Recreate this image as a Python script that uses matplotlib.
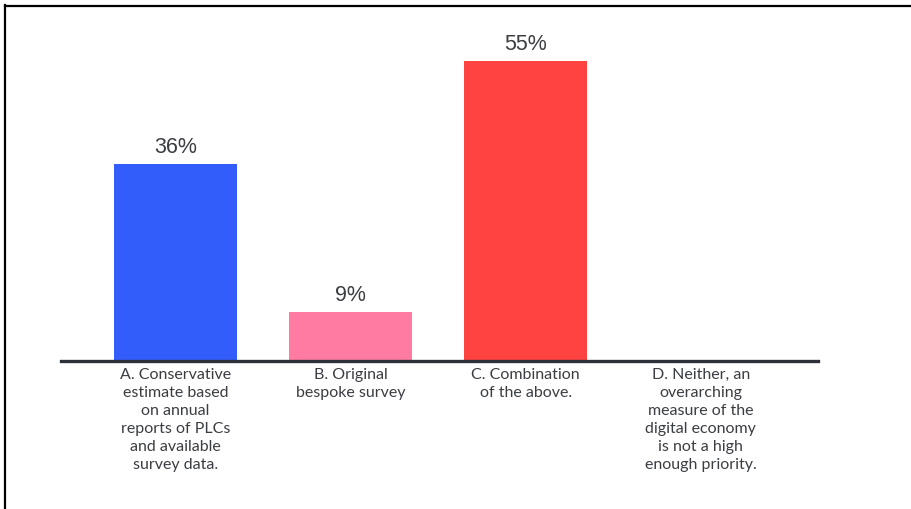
import matplotlib
matplotlib.use("Agg")
import matplotlib.pyplot as plt
from matplotlib.lines import Line2D

categories = [
    "A. Conservative\nestimate based\non annual\nreports of PLCs\nand available\nsurvey data.",
    "B. Original\nbespoke survey",
    "C. Combination\nof the above.",
    "D. Neither, an\noverarching\nmeasure of the\ndigital economy\nis not a high\nenough priority.",
]
values = [36, 9, 55, 0]
value_labels = ["36%", "9%", "55%", None]
colors = ["#335DFB", "#FF7BA1", "#FF4340", "#FFFFFF"]

W, H = 911, 510
fig = plt.figure(figsize=(W / 100, H / 100), dpi=100)
fig.patch.set_facecolor("white")

ax = fig.add_axes([61 / W, 148 / H, (818 - 61) / W, (362 - 35) / H])
x = list(range(len(categories)))
ax.bar(x, values, width=0.70, color=colors, edgecolor="none", zorder=2)

for xi, v, lab in zip(x, values, value_labels):
    if lab:
        ax.text(xi, v + 1.3, lab, ha="center", va="bottom", fontsize=15.5,
                color="#3a3d42", family="Liberation Sans")

ax.set_xlim(-0.655, 3.67)
ax.set_ylim(0, 59.9)
ax.set_xticks(x)
ax.set_xticklabels(categories, fontsize=11.5, color="#3a3d42", family="Lato",
                   linespacing=1.38)
ax.tick_params(axis="x", length=0, pad=4)
ax.set_yticks([])
for side in ["top", "right", "left"]:
    ax.spines[side].set_visible(False)
ax.spines["bottom"].set_color("#2e3238")
ax.spines["bottom"].set_linewidth(2.4)

# outer frame lines on the left and top edges
fig.add_artist(Line2D([5 / W, 5 / W], [0, 1 - 6 / H], transform=fig.transFigure,
                      color="black", linewidth=1.6))
fig.add_artist(Line2D([5 / W, 1], [1 - 6.5 / H, 1 - 6.5 / H], transform=fig.transFigure,
                      color="black", linewidth=1.6))

fig.savefig("out.png", dpi=100, facecolor="white")
